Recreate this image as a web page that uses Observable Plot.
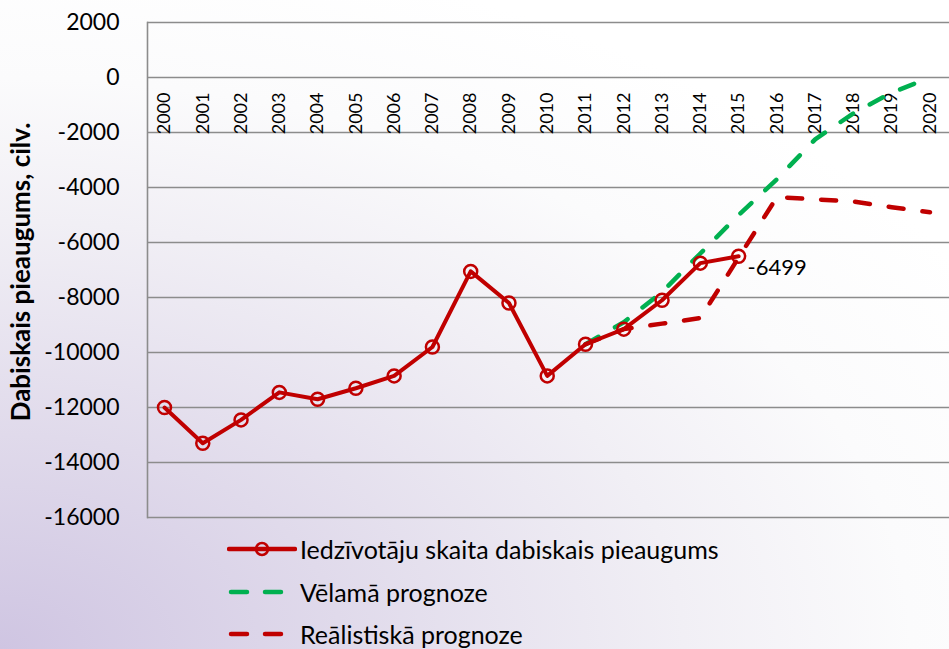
<!DOCTYPE html>
<html>
<head>
<meta charset="utf-8">
<script src="https://cdn.jsdelivr.net/npm/d3@7"></script>
<script src="https://cdn.jsdelivr.net/npm/@observablehq/plot@0.6"></script>
<style>
  html, body { margin: 0; padding: 0; }
  body {
    width: 949px; height: 649px; overflow: hidden; position: relative;
    font-family: Lato, "Open Sans", sans-serif;
    background: radial-gradient(ellipse 120% 110% at 0% 100%, #cfc5e2 0%, #e0daeb 30%, #f1eff5 60%, #fbfbfc 80%, #ffffff 100%);
  }
  #legend { position: absolute; left: 227px; top: 528px; }
  .row { display: flex; align-items: center; height: 42.5px; font-size: 25px; color: #000; }
  .row svg { margin-right: 3px; }
</style>
</head>
<body>
<div id="chart"></div>
<div id="legend"></div>
<script>
const years = [2000,2001,2002,2003,2004,2005,2006,2007,2008,2009,2010,2011,2012,2013,2014,2015];
const actual = [-12000,-13300,-12450,-11450,-11700,-11300,-10850,-9800,-7050,-8200,-10850,-9700,-9150,-8100,-6750,-6499];

const forecastYears = [2011,2012,2013,2014,2015,2016,2017,2018,2019,2020];
const desired = [-9700,-8900,-7800,-6400,-5000,-3700,-2250,-1300,-550,0];
const realistic = [-9700,-9150,-8950,-8750,-6550,-4350,-4430,-4510,-4720,-4900];

const allYears = d3.range(2000, 2021);
const yTicks = d3.range(-16000, 2001, 2000);

const yTitle = "Dabiskais pieaugums, cilv.";
const seriesNames = ["Iedzīvotāju skaita dabiskais pieaugums", "Vēlamā prognoze", "Reālistiskā prognoze"];
const red = "#C00000", green = "#00B050";

const actualData = years.map((y, i) => ({year: y, value: actual[i]}));
const desiredData = forecastYears.map((y, i) => ({year: y, value: desired[i]}));
const realData = forecastYears.map((y, i) => ({year: y, value: realistic[i]}));
const lastPoint = actualData[actualData.length - 1];

const chart = Plot.plot({
  width: 949,
  height: 528,
  marginTop: 22,
  marginBottom: 11,
  marginLeft: 147,
  marginRight: 0,
  style: {background: "transparent", fontFamily: "Lato, 'Open Sans', sans-serif", overflow: "visible"},
  x: {type: "linear", domain: [1999.556, 2020.51], axis: null},
  y: {domain: [-16000, 2000]},
  marks: [
    Plot.gridY(yTicks, {stroke: "#8c8c8c", strokeOpacity: 1, strokeWidth: 1.6}),
    Plot.frame({anchor: "left", stroke: "#8c8c8c", strokeWidth: 1.6}),
    Plot.axisY(yTicks, {tickSize: 0, tickPadding: 28, fontSize: 23, fill: "#000",
      tickFormat: d => String(d), label: null}),
    Plot.text([yTitle], {frameAnchor: "left", text: d => d, rotate: -90, textAnchor: "middle",
      dx: -126, dy: 2, fontSize: 26, fontWeight: "bold", fill: "#000"}),
    Plot.text(allYears, {x: d => d, y: () => 0, text: d => String(d), rotate: -90,
      textAnchor: "end", dy: 15, fontSize: 18, fill: "#000"}),
    Plot.line(desiredData, {x: "year", y: "value", stroke: green, strokeWidth: 4.5,
      strokeDasharray: "15,19", strokeLinecap: "round"}),
    Plot.line(realData, {x: "year", y: "value", stroke: red, strokeWidth: 4.5,
      strokeDasharray: "15,19", strokeLinecap: "round"}),
    Plot.line(actualData, {x: "year", y: "value", stroke: red, strokeWidth: 4}),
    Plot.dot(actualData, {x: "year", y: "value", r: 6.5, stroke: red, strokeWidth: 2.5, fill: "none"}),
    Plot.text([lastPoint], {x: "year", y: "value", text: d => String(d.value), textAnchor: "start",
      dx: 9, dy: 12, fontSize: 22, fill: "#000"})
  ]
});
document.getElementById("chart").appendChild(chart);

// legend
const legend = document.getElementById("legend");
const styles = [
  {color: red, dash: null, marker: true},
  {color: green, dash: "16,18", marker: false},
  {color: red, dash: "16,18", marker: false}
];
seriesNames.forEach((name, i) => {
  const s = styles[i];
  const row = document.createElement("div");
  row.className = "row";
  const ns = "http://www.w3.org/2000/svg";
  const svg = document.createElementNS(ns, "svg");
  svg.setAttribute("width", "70");
  svg.setAttribute("height", "20");
  const line = document.createElementNS(ns, "line");
  line.setAttribute("x1", s.dash ? 4 : 2);
  line.setAttribute("x2", s.dash ? 58 : 68);
  line.setAttribute("y1", 10);
  line.setAttribute("y2", 10);
  line.setAttribute("stroke", s.color);
  line.setAttribute("stroke-width", 4.5);
  line.setAttribute("stroke-linecap", "round");
  if (s.dash) line.setAttribute("stroke-dasharray", s.dash);
  svg.appendChild(line);
  if (s.marker) {
    const c = document.createElementNS(ns, "circle");
    c.setAttribute("cx", 35); c.setAttribute("cy", 10); c.setAttribute("r", 6);
    c.setAttribute("fill", "none"); c.setAttribute("stroke", s.color); c.setAttribute("stroke-width", 2.5);
    svg.appendChild(c);
  }
  row.appendChild(svg);
  const span = document.createElement("span");
  span.textContent = name;
  row.appendChild(span);
  legend.appendChild(row);
});
</script>
</body>
</html>
